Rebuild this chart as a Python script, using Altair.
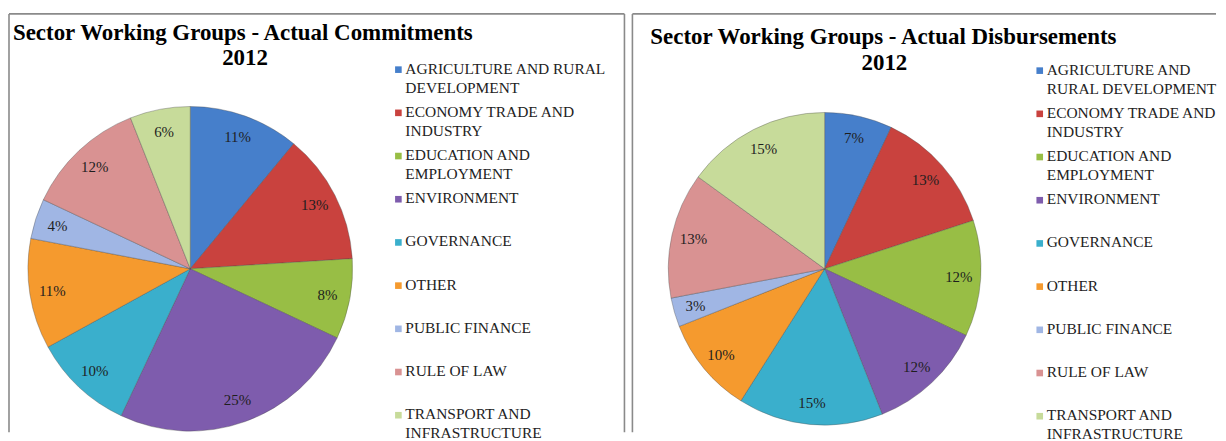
import altair as alt
import pandas as pd

SERIF = "'Liberation Serif', 'Times New Roman', Times, serif"

categories = [
    "AGRICULTURE AND RURAL DEVELOPMENT",
    "ECONOMY TRADE AND INDUSTRY",
    "EDUCATION AND EMPLOYMENT",
    "ENVIRONMENT",
    "GOVERNANCE",
    "OTHER",
    "PUBLIC FINANCE",
    "RULE OF LAW",
    "TRANSPORT AND INFRASTRUCTURE",
]
commitments = [11, 13, 8, 25, 10, 11, 4, 12, 6]
disbursements = [7, 13, 12, 12, 15, 10, 3, 13, 15]

legend_left = [
    "AGRICULTURE AND RURAL\nDEVELOPMENT",
    "ECONOMY TRADE AND\nINDUSTRY",
    "EDUCATION AND\nEMPLOYMENT",
    "ENVIRONMENT",
    "GOVERNANCE",
    "OTHER",
    "PUBLIC FINANCE",
    "RULE OF LAW",
    "TRANSPORT AND\nINFRASTRUCTURE",
]
legend_right = [
    "AGRICULTURE AND\nRURAL DEVELOPMENT",
    "ECONOMY TRADE AND\nINDUSTRY",
    "EDUCATION AND\nEMPLOYMENT",
    "ENVIRONMENT",
    "GOVERNANCE",
    "OTHER",
    "PUBLIC FINANCE",
    "RULE OF LAW",
    "TRANSPORT AND\nINFRASTRUCTURE",
]
colors = ["#467FCB", "#C9423E", "#98BE45", "#7E5CAD", "#3AAFCC",
          "#F59A2E", "#A0B6E4", "#D99292", "#C7DB9A"]

title_left = ["Sector Working Groups - Actual Commitments", "2012"]
title_right = ["Sector Working Groups - Actual Disbursements", "2012"]


def panel(values, legend_labels, titles, W, H, cx, cy, r,
          tx, ty, yx, yy, lx, ly0, ly1, right_border):
    df = pd.DataFrame({
        "cat": categories,
        "value": values,
        "idx": list(range(len(categories))),
        "pct": [f"{v}%" for v in values],
        "leg": legend_labels,
    })
    base = alt.Chart(df)
    color = alt.Color("cat:N", scale=alt.Scale(domain=categories, range=colors), legend=None)
    theta = alt.Theta("value:Q", stack=True)
    order = alt.Order("idx:Q")
    arc = base.mark_arc(outerRadius=r, stroke="#4a4a4a", strokeWidth=0.8, strokeOpacity=0.45).encode(
        theta=theta, color=color, order=order, x=alt.value(cx), y=alt.value(cy))
    lbl = base.mark_text(radius=r * 0.86, font=SERIF, fontSize=15, color="#1e1e1e").encode(
        theta=theta, order=order, text="pct:N", x=alt.value(cx), y=alt.value(cy))
    ysc = alt.Y("idx:Q", scale=alt.Scale(domain=[0, len(categories) - 1], range=[ly0, ly1], nice=False, zero=False), axis=None)
    sq = base.mark_square(size=44, opacity=1).encode(x=alt.value(lx), y=ysc, color=color)
    txt = base.mark_text(align="left", baseline="top", lineBreak="\n", font=SERIF, fontSize=15.5,
                         lineHeight=19, dy=-8, color="#222222").encode(
        x=alt.value(lx + 7), y=ysc, text="leg:N")
    tdf = pd.DataFrame({"t": [titles[0]]})
    ydf = pd.DataFrame({"t": [titles[1]]})
    t1 = alt.Chart(tdf).mark_text(align="left", baseline="alphabetic", font=SERIF, fontSize=23,
                                  fontWeight="bold", color="#000000").encode(
        x=alt.value(tx), y=alt.value(ty), text="t:N")
    t2 = alt.Chart(ydf).mark_text(align="center", baseline="alphabetic", font=SERIF, fontSize=23,
                                  fontWeight="bold", color="#000000").encode(
        x=alt.value(yx), y=alt.value(yy), text="t:N")
    bdf = pd.DataFrame({"a": [0]})
    bstyle = dict(color="#8a8a8a", strokeWidth=1.6)
    top = alt.Chart(bdf).mark_rule(**bstyle).encode(x=alt.value(0), x2=alt.value(W), y=alt.value(0))
    left = alt.Chart(bdf).mark_rule(**bstyle).encode(x=alt.value(0), y=alt.value(0), y2=alt.value(H))
    layers = [arc, lbl, sq, txt, t1, t2, top, left]
    if right_border:
        right = alt.Chart(bdf).mark_rule(**bstyle).encode(x=alt.value(W), y=alt.value(0), y2=alt.value(H))
        layers.append(right)
    return alt.layer(*layers).properties(width=W, height=H)


p1 = panel(commitments, legend_left, title_left, 618, 420, 182, 256, 163,
           4, 26, 237, 51, 391, 56, 403, True)
p2 = panel(disbursements, legend_right, title_right, 586, 420, 193, 256, 157,
           18, 30, 253, 56, 409, 57, 404, False)

chart = alt.hconcat(p1, p2, spacing=6).properties(
    padding={"left": 0, "top": 4, "right": 0, "bottom": 0}
).configure_view(stroke=None)

chart.save("out.html", embed_options={"renderer": "svg", "actions": False})
